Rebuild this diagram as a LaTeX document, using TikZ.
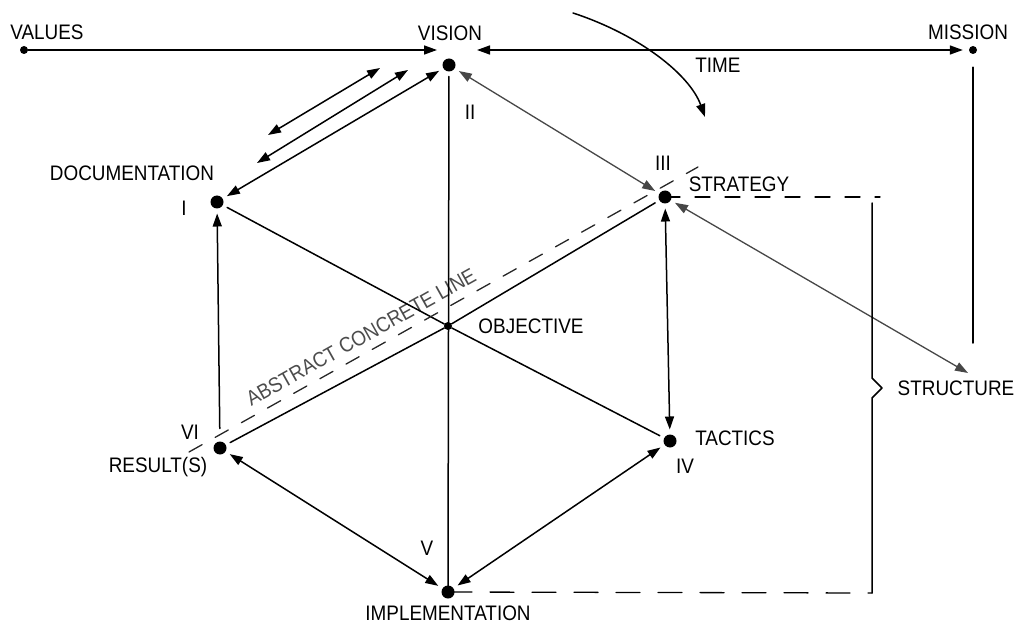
\documentclass[tikz,border=0pt]{standalone}
\usepackage{fontspec}
\setmainfont{Liberation Sans}[FakeStretch=0.9]
\usetikzlibrary{arrows.meta, positioning, calc}

\begin{document}
\begin{tikzpicture}[x=1pt, y=-1pt, line cap=round, line join=round,
	>={Triangle[length=13pt,width=9pt]},
	bigDot/.style={circle, fill=black, inner sep=0pt, minimum size=13pt, outer sep=5pt},
	smallDot/.style={circle, fill=black, inner sep=0pt, minimum size=8pt},
	tag/.style={font=\fontsize{21}{24}\selectfont, inner sep=0pt},
	mainLine/.style={line width=1.5pt},
	greyLine/.style={line width=1.3pt, draw=black!72},
	dashLine/.style={line width=1.3pt, dash pattern=on 15pt off 15pt},
	longDash/.style={line width=1.3pt, dash pattern=on 24pt off 18pt}]
	
	% Marco del dibujo
	\useasboundingbox (0,0) rectangle (1017,628);
	
	% --- Puntos del hexagono ---
	\node[bigDot] (vision)    at (449,65)  {};
	\node[bigDot] (doc)       at (217,202) {};
	\node[bigDot] (strategy)  at (665,197) {};
	\node[bigDot] (tactics)   at (670,441) {};
	\node[bigDot] (impl)      at (448,592) {};
	\node[bigDot] (result)    at (220,448) {};
	\node[smallDot] (objective) at (448,326) {};
	\node[smallDot] (values)  at (24,50)   {};
	\node[smallDot] (mission) at (973,50)  {};
	
	% --- Textos ---
	\node[tag] (valuesText)    at (47,32)   {VALUES};
	\node[tag] (visionText)    at (450,33)  {VISION};
	\node[tag] (missionText)   at (968,32)  {MISSION};
	\node[tag] (timeText)      at (718,65)  {TIME};
	\node[tag] (docText)       at (132,173) {DOCUMENTATION};
	\node[tag] (docNum)        at (184,208) {I};
	\node[tag] (visionNum)     at (470,112) {II};
	\node[tag] (strategyNum)   at (663,163) {III};
	\node[tag] (strategyText)  at (739,184) {STRATEGY};
	\node[tag] (tacticsText)   at (735,438) {TACTICS};
	\node[tag] (tacticsNum)    at (685,466) {IV};
	\node[tag] (implNum)       at (427,548) {V};
	\node[tag] (implText)      at (448,613) {IMPLEMENTATION};
	\node[tag] (resultNum)     at (190,432) {VI};
	\node[tag] (resultText)    at (158,467) {RESULT(S)};
	\node[tag] (objectiveText) at (531,326) {OBJECTIVE};
	\node[tag] (structureText) at (956,388) {STRUCTURE};
	\node[tag, rotate=29.2, text=black!70] (lineText) at (361,337) {ABSTRACT CONCRETE LINE};
	
	% --- Extremos libres ---
	\coordinate (valuesEnd)  at (437,50);
	\coordinate (timeStart)  at (477,50);
	\coordinate (turnStart)  at (573,13);
	\coordinate (turnEnd)    at (705,117);
	\coordinate (pairAs)     at (268,135);
	\coordinate (pairAe)     at (380,68);
	\coordinate (pairBs)     at (257,163);
	\coordinate (pairBe)     at (408,70);
	\coordinate (structTip)  at (968,373);
	\coordinate (missionFoot) at (973,343);
	\coordinate (braceTop)   at (872,203);
	\coordinate (braceFoot)  at (872,593);
	\coordinate (dashTopEnd) at (880,197);
	\coordinate (acStart)    at (189,452);
	\coordinate (acEnd)      at (698,167);
	
	% --- Linea superior (tiempo) ---
	\draw[mainLine, ->] (values) -- (valuesEnd);
	\draw[mainLine, <->, shorten >=6pt] (timeStart) -- (mission);
	\draw[mainLine, ->] (turnStart) .. controls (640,35) and (690,75) .. (turnEnd);
	\draw[mainLine, shorten <=13pt] (mission) -- (missionFoot);
	
	% --- Flechas entre documentacion y vision ---
	\draw[mainLine, <->] (pairAs) -- (pairAe);
	\draw[mainLine, <->] (pairBs) -- (pairBe);
	\draw[mainLine, <->] (doc) -- (vision);
	
	% --- Hexagono ---
	\draw[greyLine, <->] (vision) -- (strategy);
	\draw[mainLine, <->] (strategy) -- (tactics);
	\draw[mainLine, <->] (impl) -- (tactics);
	\draw[mainLine, <->] (result) -- (impl);
	\draw[mainLine, ->, shorten <=8pt] (result) -- (doc);
	\draw[greyLine, <->] (strategy) -- (structTip);
	
	% --- Diagonales ---
	\draw[mainLine] (vision) -- (impl.center);
	\draw[mainLine] (doc) -- (objective) -- (tactics);
	\draw[mainLine] (result) -- (objective) -- (strategy);
	
	% --- Linea abstracto-concreto ---
	\draw[dashLine, draw=black!85] (acStart) -- (acEnd);
	
	% --- Estructura ---
	\draw[dashLine] (strategy.center) -- (dashTopEnd);
	\draw[longDash] (impl.center) -- (braceFoot);
	\draw[mainLine] (braceTop) -- ++(0,175) -- ++(10,10) -- ++(-10,10) -- (braceFoot);
	
\end{tikzpicture}
\end{document}
